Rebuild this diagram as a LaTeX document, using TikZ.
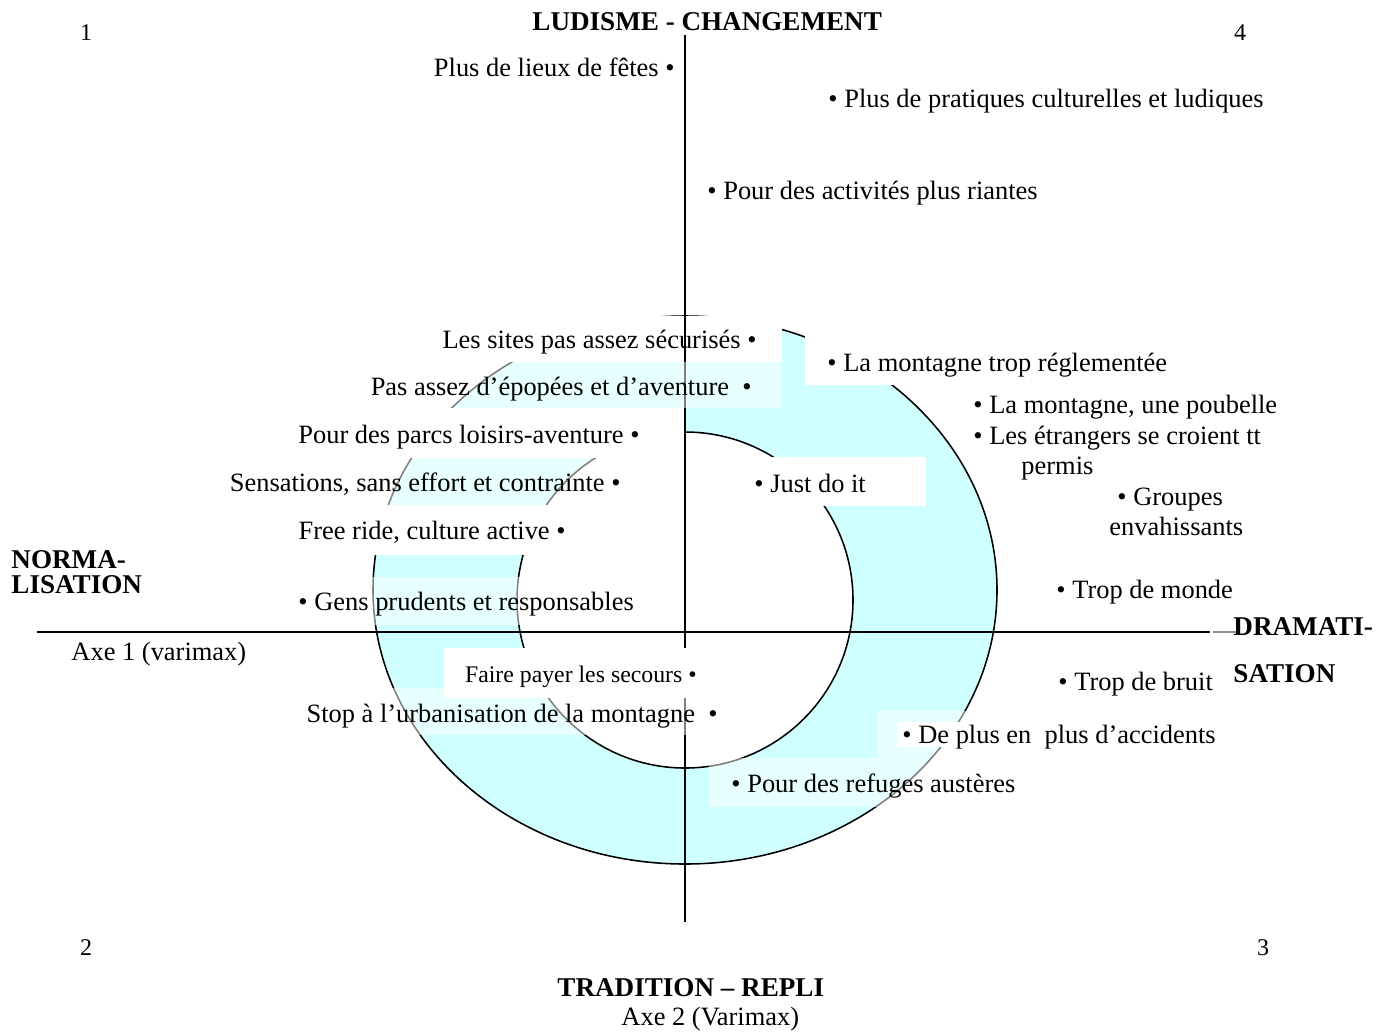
\documentclass[tikz,border=0pt]{standalone}
\usepackage{fontspec}
\setmainfont{Liberation Serif}
\definecolor{ringc}{RGB}{208,255,255}
\begin{document}
\begin{tikzpicture}[x=0.45pt,y=-0.45pt,
  txt/.style={inner sep=0pt, font=\fontsize{11.9}{13.8}\selectfont},
  small/.style={inner sep=0pt, font=\fontsize{10.7}{12.5}\selectfont},
  num/.style={inner sep=0pt, font=\fontsize{10.8}{12.5}\selectfont},
  ttl/.style={inner sep=0pt, font=\fontsize{12.2}{14}\selectfont\bfseries},
  opaq/.style={fill=white, draw=none},
  semi/.style={fill=white, fill opacity=0.5, draw=none},
  axisline/.style={line width=0.7pt, black},
  ringedge/.style={line width=0.7pt, black}]
\useasboundingbox (0,0) rectangle (1388,1035);
\fill[white] (0,0) rectangle (1388,1035);

% ring
\fill[ringc, even odd rule] (685,590) ellipse [x radius=140.4pt, y radius=123.3pt]
  (685,600) circle [radius=75.6pt];
\draw[ringedge] (685,590) ellipse [x radius=140.4pt, y radius=123.3pt];
\draw[ringedge] (685,600) circle [radius=75.6pt];

% opaque text boxes under the axes
\path[opaq] (430,315.6) rectangle (782,362);
\path[opaq] (805,335) rectangle (1175,385);
\path[opaq] (290,408) rectangle (684,458);
\path[opaq] (290,505) rectangle (580,555);
\path[opaq] (745,457) rectangle (926,506);

% axes
\coordinate (vt) at (685,35);
\coordinate (vb) at (685,922);
\coordinate (hl) at (37,632);
\coordinate (hr) at (1210,632);
\coordinate (hg1) at (1213,632);
\coordinate (hg2) at (1240,632);
\draw[axisline] (vt) -- (vb);
\draw[axisline] (hl) -- (hr);
\draw[axisline, black!45] (hg1) -- (hg2);

% boxes over the axes
\path[semi] (300,688) rectangle (722,735);
\path[opaq] (444,648) rectangle (700,698);
\path[semi] (365,362) rectangle (782,408);
\path[semi] (220,458) rectangle (625,505);
\path[semi] (290,577) rectangle (640,625);
\path[semi] (877,711) rectangle (1215,758);
\path[opaq] (897,722) rectangle (1215,747);
\path[semi] (709,758) rectangle (1020,807);

% titles
\node[ttl, anchor=base west] (ludisme) at (532,30) {LUDISME - CHANGEMENT};
\node[ttl, anchor=base west] (tradition) at (557,996) {TRADITION – REPLI};
\node[txt, anchor=base west] (axe2) at (621,1025) {Axe 2 (Varimax)};
\node[ttl, anchor=base west] (norma) at (11,568) {NORMA-};
\node[ttl, anchor=base west] (lisation) at (11,593) {LISATION};
\node[txt, anchor=base west] (axe1) at (71,660) {Axe 1 (varimax)};
\node[ttl, anchor=base west] (dramati) at (1233,635) {DRAMATI-};
\node[ttl, anchor=base west] (sation) at (1233,682) {SATION};

% quadrant numbers
\node[num, anchor=base] (q1) at (86,40) {1};
\node[num, anchor=base] (q4) at (1240,40) {4};
\node[num, anchor=base] (q2) at (86,955) {2};
\node[num, anchor=base] (q3) at (1263,955) {3};

% items, left side (right aligned)
\node[txt, anchor=base east] (fetes) at (675,76) {Plus de lieux de fêtes •};
\node[txt, anchor=base east] (sites) at (757,348) {Les sites pas assez sécurisés •};
\node[txt, anchor=base east] (epopees) at (752,395) {Pas assez d’épopées et d’aventure \ •};
\node[txt, anchor=base east] (parcs) at (640,443) {Pour des parcs loisirs-aventure •};
\node[txt, anchor=base east] (sensations) at (621,491) {Sensations, sans effort et contrainte •};
\node[txt, anchor=base east] (freeride) at (566,539) {Free ride, culture active •};
\node[small, anchor=base east] (secours) at (697,682) {Faire payer les secours •};
\node[txt, anchor=base east] (urban) at (718,722) {Stop à l’urbanisation de la montagne \ •};

% items, bullet first
\node[txt, anchor=base west] (pratiques) at (828,107) {• Plus de pratiques culturelles et ludiques};
\node[txt, anchor=base west] (riantes) at (707,199) {• Pour des activités plus riantes};
\node[txt, anchor=base west] (reglem) at (827,371) {• La montagne trop réglementée};
\node[txt, anchor=base west] (poubelle) at (973,413) {• La montagne, une poubelle};
\node[txt, anchor=base west] (etrangers) at (973,444) {• Les étrangers se croient tt};
\node[txt, anchor=base west] (permis) at (1021,474) {permis};
\node[txt, anchor=base west] (justdo) at (754,492) {• Just do it};
\node[txt, anchor=base west] (groupes) at (1117,505) {• Groupes};
\node[txt, anchor=base west] (envahis) at (1109,535) {envahissants};
\node[txt, anchor=base west] (monde) at (1056,598) {• Trop de monde};
\node[txt, anchor=base west] (prudents) at (298,610) {• Gens prudents et responsables};
\node[txt, anchor=base west] (bruit) at (1058,690) {• Trop de bruit};
\node[txt, anchor=base west] (accidents) at (902,743) {• De plus en \ plus d’accidents};
\node[txt, anchor=base west] (refuges) at (731,792) {• Pour des refuges austères};
\end{tikzpicture}
\end{document}
